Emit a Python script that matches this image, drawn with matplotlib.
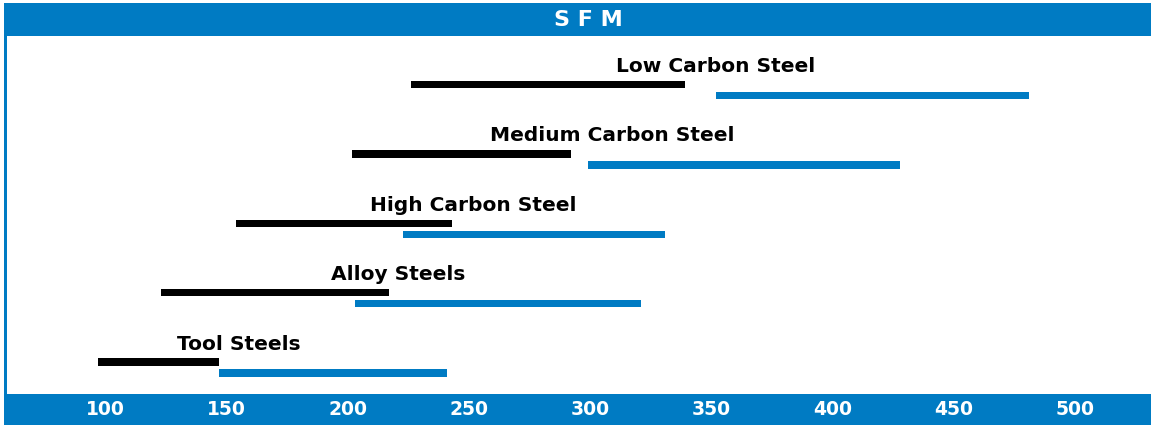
import matplotlib
matplotlib.use("Agg")
import matplotlib.pyplot as plt
from matplotlib.patches import Rectangle
from matplotlib.transforms import blended_transform_factory

# Datos (SFM)
categorias = ["Low Carbon Steel", "Medium Carbon Steel", "High Carbon Steel",
              "Alloy Steels", "Tool Steels"]
negro_ini = [226, 202, 154, 123, 97]
negro_fin = [339, 292, 243, 217, 147]
azul_ini = [352, 299, 223, 203, 147]
azul_fin = [481, 428, 331, 321, 241]
etiqueta_x = [352, 309, 252, 221, 155]
ticks = [100, 150, 200, 250, 300, 350, 400, 450, 500]

AZUL = "#007bc3"
W, H = 1151, 428

fig = plt.figure(figsize=(W / 100, H / 100), dpi=100)
fig.patch.set_facecolor("white")

def fx(px):
    return px / W

def fy(py):
    return 1 - py / H

# marco: barra superior y borde izquierdo
fig.patches.append(Rectangle((fx(4), fy(36)), fx(W - 4), 33 / H, transform=fig.transFigure,
                             facecolor=AZUL, edgecolor="none"))
fig.patches.append(Rectangle((fx(4), fy(394)), fx(3), (394 - 36) / H,
                             transform=fig.transFigure, facecolor=AZUL, edgecolor="none"))
fig.text(fx(588), fy(20), "S F M", color="white", fontsize=16, fontweight="bold",
         ha="center", va="center", family="DejaVu Sans")

# ejes principales
x0, x1 = 7, W
top, bot = 36, 394
ax = fig.add_axes([fx(x0), fy(bot), fx(x1 - x0), (bot - top) / H])
ppu = 2.425
ax.set_xlim(100 - (105 - x0) / ppu, 100 + (x1 - 105) / ppu)
paso = 69.4
ax.set_ylim((bot - top - 48.5) / paso, -48.5 / paso)
ax.axis("off")

alto = 7.5 / paso
desp = 11 / paso
for i, nombre in enumerate(categorias):
    ax.barh(i, negro_fin[i] - negro_ini[i], left=negro_ini[i], height=alto,
            color="black", edgecolor="none")
    ax.barh(i + desp, azul_fin[i] - azul_ini[i], left=azul_ini[i], height=alto,
            color=AZUL, edgecolor="none")
    ax.text(etiqueta_x[i], i - 12.5 / paso, nombre, ha="center", va="baseline",
            fontsize=14.5, fontweight="bold", color="black", family="DejaVu Sans")

# barra inferior con las marcas
axb = fig.add_axes([fx(4), fy(425), fx(W - 4), (425 - 394) / H])
axb.set_facecolor(AZUL)
axb.set_xlim(100 - (105 - 4) / ppu, 100 + (W - 105) / ppu)
axb.set_ylim(0, 1)
for s in axb.spines.values():
    s.set_visible(False)
axb.set_xticks([])
axb.set_yticks([])
tr = blended_transform_factory(axb.transData, axb.transAxes)
for t in ticks:
    axb.text(t, 0.5, str(t), transform=tr, ha="center", va="center",
             color="white", fontsize=13.5, fontweight="bold", family="DejaVu Sans")

fig.savefig("out.png", dpi=100)
